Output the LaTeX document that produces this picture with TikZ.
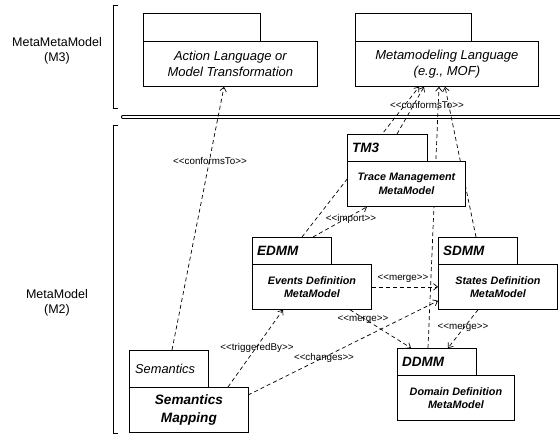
\documentclass[tikz,border=0pt]{standalone}
\usepackage{fontspec}
\setmainfont{Liberation Sans}
\usetikzlibrary{arrows.meta,calc}
\pgfdeclarelayer{bg}
\pgfsetlayers{bg,main}
\newcommand{\stlt}{<{}<}
\newcommand{\stgt}{>{}>}
\begin{document}
\begin{tikzpicture}[x=1pt,y=-1pt,
  pk/.style 2 args={draw, fill=white, line width=0.8pt, anchor=north west, inner sep=0pt,
    minimum width=#1pt, minimum height=#2pt, align=center},
  toptxt/.style={font=\fontsize{13}{16}\selectfont\itshape},
  midtxt/.style={font=\fontsize{10.8}{13.5}\selectfont\bfseries\itshape},
  tabtxt/.style={anchor=west, inner sep=0pt, font=\fontsize{13.5}{16}\selectfont\bfseries\itshape},
  side/.style={align=center, font=\fontsize{12.5}{15}\selectfont},
  stereo/.style={inner sep=0pt, font=\fontsize{9.8}{11}\selectfont},
  dep/.style={line width=0.7pt, dash pattern=on 4pt off 3pt, -{Straight Barb[length=4pt,width=6.5pt]}},
  brk/.style={line width=0.8pt}
]
\begin{pgfonlayer}{bg}
\path[fill=white] (0,0) rectangle (560,436);
\end{pgfonlayer}
\useasboundingbox (0,0) rectangle (560,436);

% side labels
\node[side] (m3) at (57,51) {MetaMetaModel\\(M3)};
\node[side] (m2) at (57,303) {MetaModel\\(M2)};

% brackets
\draw[brk] (118,5) -- (113,5) -- (113,108) -- (118,108);
\draw[brk] (118,125) -- (113,125) -- (113,433) -- (118,433);

% packages
\node[pk={117}{28}] (actt) at (143,13) {};
\node[pk={174}{45}, toptxt] (actb) at (143,41) {Action Language or\\Model Transformation};
\node[pk={116}{28}] (moft) at (355,13) {};
\node[pk={183}{45}, toptxt] (mofb) at (355,41) {Metamodeling Language\\(e.g., MOF)};

\node[pk={80}{27}] (tm3t) at (347,134) {};
\node[pk={118}{45}, midtxt] (tm3b) at (347,161) {Trace Management\\MetaModel};
\node[tabtxt] (tm3l) at ($(tm3t.west)+(5,0)$) {TM3};

\node[pk={79}{27}] (edt) at (252,237) {};
\node[pk={119}{45}, midtxt] (edb) at (252,264) {Events Definition\\MetaModel};
\node[tabtxt] (edl) at ($(edt.west)+(5,0)$) {EDMM};

\node[pk={79}{27}] (sdt) at (438,237) {};
\node[pk={119}{45}, midtxt] (sdb) at (438,264) {States Definition\\MetaModel};
\node[tabtxt] (sdl) at ($(sdt.west)+(5,0)$) {SDMM};

\node[pk={79}{27}] (ddt) at (397,348) {};
\node[pk={117}{45}, midtxt] (ddb) at (397,375) {Domain Definition\\MetaModel};
\node[tabtxt] (ddl) at ($(ddt.west)+(5,0)$) {DDMM};

\node[pk={79}{37}] (semt) at (129,350) {};
\node[pk={119}{45}, font=\fontsize{13.6}{18}\selectfont\bfseries\itshape] (semb) at (129,387) {Semantics\\Mapping};
\node[anchor=west, inner sep=0pt, font=\fontsize{12.8}{15}\selectfont\itshape] (seml) at ($(semt.west)+(6,0)$) {Semantics};

% connectors
\begin{pgfonlayer}{bg}
\draw[line width=0.8pt, double distance=2.6pt, line cap=round] (123,116.8) -- (563,116.8);
\draw[dep] ($(semt.north west)+(43,0)$) -- ($(actb.south west)+(81,0)$);
\draw[dep] ($(edt.north west)+(50,0)$) -- ($(mofb.south west)+(64,0)$);
\draw[dep] ($(tm3t.north west)+(50,0)$) -- ($(mofb.south west)+(69,0)$);
\draw[dep] ($(ddt.north west)+(31,0)$) -- ($(mofb.south west)+(84,0)$);
\draw[dep] ($(sdt.north west)+(38,0)$) -- ($(mofb.south west)+(90,0)$);
\draw[dep] ($(edt.north west)+(61,0)$) -- ($(tm3b.south west)+(20,0)$);
\draw[dep] (edb.east) -- (sdb.west);
\draw[dep] ($(edb.south west)+(98,0)$) -- ($(ddt.north west)+(14,0)$);
\draw[dep] ($(sdb.south west)+(40,0)$) -- ($(ddt.north west)+(51,0)$);
\draw[dep] ($(semb.north west)+(99,0)$) -- ($(edb.south west)+(31,0)$);
\draw[dep] ($(semb.north west)+(119,8)$) -- ($(sdb.south west)+(0,-9)$);
\end{pgfonlayer}

% stereotype labels
\node[stereo] (l1) at (210,161) {\stlt conformsTo\stgt};
\node[stereo] (l2) at (427,105) {\stlt conformsTo\stgt};
\node[stereo] (l3) at (351,219) {\stlt import\stgt};
\node[stereo] (l4) at (403,279) {\stlt merge\stgt};
\node[stereo] (l5) at (363,320) {\stlt merge\stgt};
\node[stereo] (l6) at (463,328) {\stlt merge\stgt};
\node[stereo] (l7) at (257,348) {\stlt triggeredBy\stgt};
\node[stereo] (l8) at (324,358) {\stlt changes\stgt};
\end{tikzpicture}
\end{document}
